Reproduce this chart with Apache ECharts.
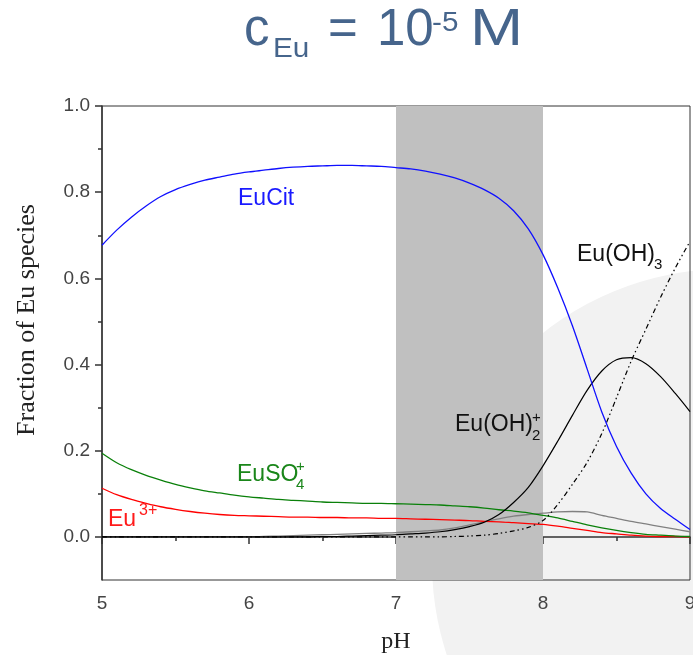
<!DOCTYPE html>
<html>
<head>
<meta charset="utf-8">
<title>Eu speciation</title>
<script src="https://cdn.jsdelivr.net/npm/echarts@6.0.0/dist/echarts.min.js"></script>
<style>
  html, body { margin: 0; padding: 0; background: #fff; }
  #mainChart { width: 693px; height: 655px; }
</style>
</head>
<body>
<div id="mainChart"></div>
<script>
'use strict'
// pH grid, 0.1 steps
var ph = [5.0,5.1,5.2,5.3,5.4,5.5,5.6,5.7,5.8,5.9,6.0,6.1,6.2,6.3,6.4,6.5,6.6,6.7,6.8,6.9,
          7.0,7.1,7.2,7.3,7.4,7.5,7.6,7.7,7.8,7.9,8.0,8.1,8.2,8.3,8.4,8.5,8.6,8.7,8.8,8.9,9.0];

var euCit = [0.677,0.712,0.742,0.768,0.790,0.806,0.818,0.828,0.835,0.842,0.847,0.851,0.855,0.858,0.860,0.861,0.862,0.862,0.861,0.860,
             0.857,0.854,0.849,0.842,0.833,0.821,0.806,0.786,0.757,0.715,0.655,0.578,0.490,0.390,0.290,0.210,0.148,0.100,0.066,0.041,0.017];
var euSO4 = [0.194,0.172,0.156,0.143,0.132,0.122,0.114,0.107,0.102,0.097,0.093,0.090,0.087,0.085,0.083,0.081,0.080,0.079,0.078,0.078,
             0.077,0.076,0.075,0.074,0.072,0.070,0.067,0.063,0.060,0.056,0.050,0.044,0.036,0.028,0.021,0.015,0.010,0.006,0.004,0.002,0.001];
var eu3 = [0.113,0.098,0.087,0.078,0.070,0.064,0.059,0.055,0.052,0.050,0.049,0.048,0.047,0.046,0.046,0.045,0.045,0.044,0.044,0.043,
           0.043,0.042,0.041,0.040,0.039,0.038,0.036,0.035,0.033,0.031,0.029,0.025,0.020,0.015,0.010,0.007,0.004,0.002,0.001,0.001,0.000];
var euOH2 = [0,0,0,0,0,0,0,0,0,0,0,0,0,0,0,0.001,0.001,0.002,0.003,0.004,
             0.005,0.007,0.009,0.012,0.017,0.024,0.034,0.052,0.080,0.115,0.165,0.222,0.282,0.340,0.385,0.411,0.416,0.402,0.372,0.333,0.291];
var euOH3 = [0,0,0,0,0,0,0,0,0,0,0,0,0,0,0,0,0,0,0,0,
             0,0,0,0,0.001,0.002,0.004,0.008,0.014,0.022,0.038,0.075,0.122,0.173,0.240,0.323,0.408,0.482,0.556,0.624,0.686];
var euOther = [0,0,0,0,0,0,0,0,0,0,0,0.001,0.002,0.003,0.004,0.005,0.006,0.007,0.008,0.009,
               0.010,0.012,0.014,0.016,0.021,0.028,0.035,0.042,0.048,0.052,0.055,0.058,0.059,0.058,0.050,0.043,0.036,0.030,0.024,0.018,0.012];

var yMajor = [0, 0.2, 0.4, 0.6, 0.8, 1.0];
var yMinor = [0.1, 0.3, 0.5, 0.7, 0.9];
var band = [7, 8];

function pairs(vals) {
    return ph.map(function (x, i) { return [x, vals[i]]; });
}

var sans = 'Liberation Sans, Arial, sans-serif';
var serif = 'Liberation Serif, Times New Roman, serif';
var titleColor = '#46658c';
var axisColor = '#333';

function txt(text, x, y, size, color, sx) {
    return {
        type: 'text', x: x, y: y, z: 50, scaleX: sx || 1,
        style: { text: text, fill: color, fontSize: size, fontFamily: sans, verticalAlign: 'middle', align: 'left' }
    };
}

var myChart = echarts.init(document.getElementById('mainChart'));
myChart.setOption({
    animation: false,
    grid: { left: 102, right: 3, top: 106, bottom: 75, outerBoundsMode: 'none',
            show: true, borderColor: axisColor, borderWidth: 1 },
    xAxis: {
        type: 'value', min: 5, max: 9, interval: 1,
        name: 'pH', nameLocation: 'middle', nameGap: 50,
        nameTextStyle: { fontFamily: serif, fontSize: 24, color: '#222' },
        axisLine: { lineStyle: { color: axisColor, width: 1.5 } },
        axisTick: { length: 7, lineStyle: { color: axisColor, width: 1.5 } },
        minorTick: { show: true, splitNumber: 2, length: 4, lineStyle: { color: axisColor, width: 1.5 } },
        axisLabel: { fontFamily: sans, fontSize: 19, color: '#444', margin: 14 },
        splitLine: { show: false }
    },
    yAxis: [{
        type: 'value', min: -0.1, max: 1.0,
        axisLine: { show: true, lineStyle: { color: axisColor, width: 1.5 } },
        axisTick: { show: true, length: 7, customValues: yMajor, lineStyle: { color: axisColor, width: 1.5 } },
        axisLabel: { customValues: yMajor, fontFamily: sans, fontSize: 19, color: '#444', margin: 12,
            formatter: function (v) { return v.toFixed(1); } },
        splitLine: { show: false }
    }, {
        type: 'value', min: -0.1, max: 1.0, position: 'left',
        axisLine: { show: false },
        axisTick: { show: true, length: 4, customValues: yMinor, lineStyle: { color: axisColor, width: 1.5 } },
        axisLabel: { show: false },
        splitLine: { show: false }
    }],
    series: [
        {
            name: 'band', type: 'line', data: [], silent: true, z: 1,
            markArea: {
                silent: true,
                itemStyle: { color: '#c0c0c0' },
                data: [[{ xAxis: band[0] }, { xAxis: band[1] }]]
            }
        },
        { name: 'EuOther', type: 'line', data: pairs(euOther), showSymbol: false, smooth: 0.3, z: 3,
          lineStyle: { color: '#808080', width: 1.3 } },
        { name: 'Eu3+', type: 'line', data: pairs(eu3), showSymbol: false, smooth: 0.3, z: 3,
          lineStyle: { color: '#ff0000', width: 1.3 } },
        { name: 'EuSO4+', type: 'line', data: pairs(euSO4), showSymbol: false, smooth: 0.3, z: 3,
          lineStyle: { color: '#0a800a', width: 1.3 } },
        { name: 'Eu(OH)3', type: 'line', data: pairs(euOH3), showSymbol: false, smooth: 0.3, z: 3,
          lineStyle: { color: '#000', width: 1.2, type: [5, 3, 1.5, 3, 1.5, 3] } },
        { name: 'Eu(OH)2+', type: 'line', data: pairs(euOH2), showSymbol: false, smooth: 0.3, z: 3,
          lineStyle: { color: '#000', width: 1.2 } },
        { name: 'EuCit', type: 'line', data: pairs(euCit), showSymbol: false, smooth: 0.3, z: 3,
          lineStyle: { color: '#1010ff', width: 1.3 } }
    ],
    graphic: [
        // slide decoration behind the plot
        { type: 'circle', z: -10, shape: { cx: 726, cy: 563, r: 294 }, style: { fill: '#f2f2f2' } },
        // y axis title, a bit above the axis centre as in the original
        { type: 'text', x: 27, y: 320, rotation: Math.PI / 2, z: 50,
          style: { text: 'Fraction of Eu species', fill: '#222', fontSize: 26, fontFamily: serif,
                   align: 'center', verticalAlign: 'middle' } },
        // title: c_Eu = 10^-5 M
        txt('c', 244, 31, 51, titleColor),
        txt('Eu', 273, 50, 27, titleColor, 1.1),
        txt('=', 328, 31, 51, titleColor),
        txt('10', 377, 31, 51, titleColor),
        txt('-5', 432, 24, 27, titleColor, 1.1),
        txt('M', 470, 31, 51, titleColor, 1.25),
        // species labels
        txt('EuCit', 238, 199, 23, '#1a1aff'),
        txt('EuSO', 237, 475, 23, '#1a861a'),
        txt('4', 296, 485, 15, '#1a861a'),
        txt('+', 296, 467, 15, '#1a861a'),
        txt('Eu', 108, 520, 23, '#ff1a1a'),
        txt('3+', 139, 511, 16, '#ff1a1a'),
        txt('Eu(OH)', 577, 255, 23, '#111'),
        txt('3', 654, 265, 15, '#111'),
        txt('Eu(OH)', 455, 425, 23, '#111'),
        txt('2', 532, 436, 15, '#111'),
        txt('+', 532, 418, 15, '#111')
    ]
});
</script>
</body>
</html>
